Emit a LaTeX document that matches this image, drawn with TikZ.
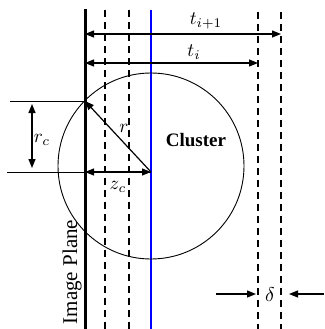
\documentclass[tikz,border=0pt]{standalone}
\usepackage{fontspec}
\usepackage{graphicx}
\setmainfont{Liberation Serif}
\usetikzlibrary{arrows.meta}
\newcommand{\mlab}[2][1.9]{\scalebox{#1}{#2}}
\begin{document}
\begin{tikzpicture}[x=1pt,y=-1pt,
  tip/.style={line width=1.2pt,-{Triangle[length=9pt,width=7pt]}},
  dbl/.style={line width=1.2pt,{Triangle[length=9pt,width=7pt]}-{Triangle[length=9pt,width=7pt]}},
  dashline/.style={line width=1.7pt, dash pattern=on 7pt off 5pt},
  lbl/.style={inner sep=0pt}]
\useasboundingbox (0,0) rectangle (324,329);
% image plane
\coordinate (ipT) at (85,9); \coordinate (ipB) at (85,329);
\draw[line width=3pt] (ipT) -- (ipB);
% dashed planes
\coordinate (d1T) at (105,10); \coordinate (d1B) at (105,329);
\coordinate (d2T) at (129,10); \coordinate (d2B) at (129,329);
\coordinate (d3T) at (258,12); \coordinate (d3B) at (258,329);
\coordinate (d4T) at (281,12); \coordinate (d4B) at (281,329);
\draw[dashline] (d1T) -- (d1B);
\draw[dashline] (d2T) -- (d2B);
\draw[dashline] (d3T) -- (d3B);
\draw[dashline] (d4T) -- (d4B);
% blue centre line
\coordinate (bT) at (151,10); \coordinate (bB) at (151,329);
\draw[blue, line width=1.5pt] (bT) -- (bB);
% cluster circle
\node[circle, draw, minimum size=186pt, inner sep=0pt, line width=0.9pt] (cl) at (151,166) {};
% horizontal guide lines
\coordinate (hA) at (10,101); \coordinate (P) at (85,101);
\coordinate (hB) at (7,172); \coordinate (C) at (151,172); \coordinate (Z) at (85,172);
\draw[line width=0.6pt] (hA) -- (P);
\draw[line width=0.6pt] (hB) -- (C);
% arrows
\draw[tip] (C) -- (P);
\draw[dbl] (Z) -- (C);
\coordinate (rcT) at (32,104); \coordinate (rcB) at (32,168);
\draw[dbl] (rcT) -- (rcB);
\coordinate (t1L) at (85,34); \coordinate (t1R) at (281,34);
\draw[dbl] (t1L) -- (t1R);
\coordinate (t0L) at (85,63); \coordinate (t0R) at (258,63);
\draw[dbl] (t0L) -- (t0R);
\coordinate (dlA) at (216,294); \coordinate (dlB) at (256,294);
\coordinate (drA) at (324,294); \coordinate (drB) at (289,294);
\draw[tip] (dlA) -- (dlB);
\draw[tip] (drA) -- (drB);
% labels
\node[lbl] (lt1) at (206,21) {\mlab{$t_{i+1}$}};
\node[lbl] (lt0) at (194,52) {\mlab{$t_i$}};
\node[lbl] (lrc) at (42,140) {\mlab{$r_c$}};
\node[lbl] (lr) at (124,128) {\mlab{$r$}};
\node[lbl] (lzc) at (118,187) {\mlab{$z_c$}};
\node[lbl] (ld) at (270,295) {\mlab[2]{$\delta$}};
\node[inner sep=0pt, font=\fontsize{19}{21}\selectfont\bfseries] (lcl) at (196,140) {Cluster};
\node[inner sep=0pt, rotate=90, font=\fontsize{21}{23}\selectfont] (lip) at (72,272) {Image Plane};
\end{tikzpicture}
\end{document}
